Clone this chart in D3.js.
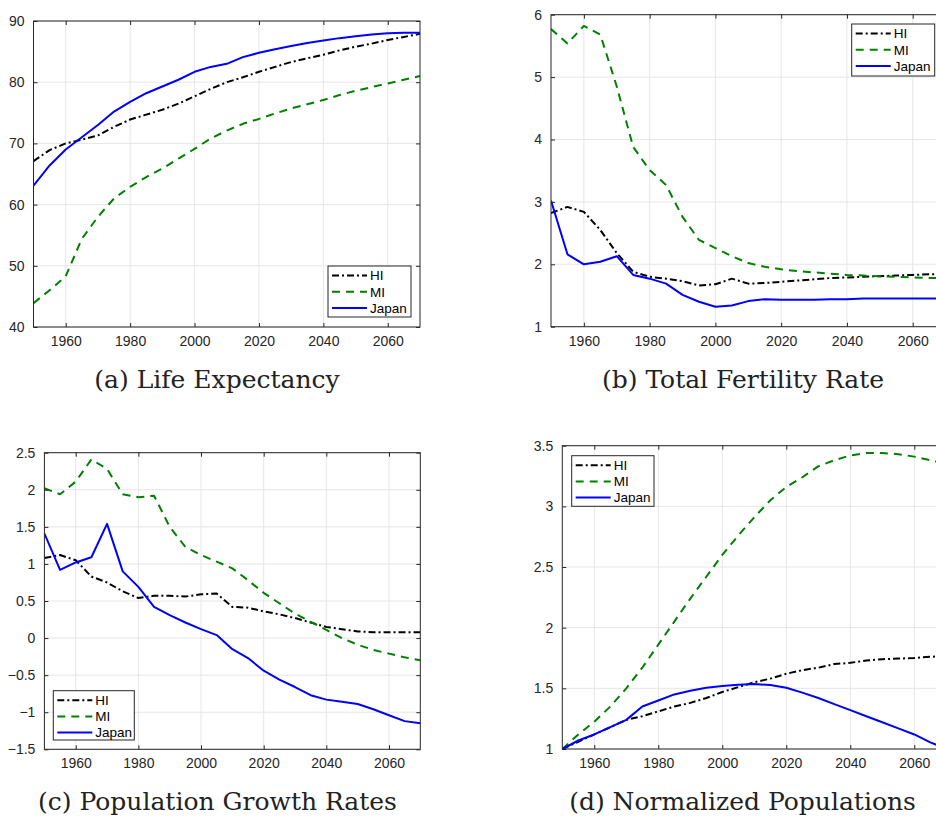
<!DOCTYPE html>
<html>
<head>
<meta charset="utf-8">
<script src="https://cdn.jsdelivr.net/npm/d3@7"></script>
<style>
  html, body { margin: 0; padding: 0; background: #fff; }
  svg { display: block; }
</style>
</head>
<body>
<svg id="chart" width="936" height="816"></svg>
<script>
// ---------- DATA ----------
const years = [1950,1955,1960,1965,1970,1975,1980,1985,1990,1995,2000,2005,2010,2015,2020,2025,2030,2035,2040,2045,2050,2055,2060,2065,2070];
const seriesNames = ["HI", "MI", "Japan"];
const xTicks = [1960, 1980, 2000, 2020, 2040, 2060];

// (a) Life Expectancy
const lifeHI    = [67.1,68.9,70.0,70.6,71.3,72.7,73.9,74.7,75.5,76.5,77.7,78.9,80.0,80.8,81.7,82.5,83.3,83.9,84.5,85.2,85.8,86.3,86.9,87.4,87.9];
const lifeMI    = [43.9,46.0,48.3,54.4,58.0,61.0,62.9,64.5,65.9,67.5,69.1,70.8,72.1,73.2,74.0,74.9,75.7,76.4,77.1,77.9,78.6,79.2,79.8,80.4,81.0];
const lifeJapan = [63.1,66.4,69.0,71.0,73.0,75.2,76.8,78.2,79.3,80.4,81.7,82.5,83.0,84.1,84.8,85.4,85.9,86.4,86.8,87.2,87.5,87.8,88.0,88.1,88.1];
const lifeTicks = [40, 50, 60, 70, 80, 90];

// (b) Total Fertility Rate
const tfrHI    = [2.82,2.92,2.84,2.55,2.18,1.88,1.80,1.77,1.73,1.66,1.68,1.77,1.69,1.70,1.72,1.74,1.76,1.78,1.79,1.80,1.81,1.82,1.83,1.84,1.84];
const tfrMI    = [5.77,5.54,5.82,5.68,4.85,3.88,3.51,3.27,2.76,2.39,2.26,2.13,2.02,1.96,1.92,1.89,1.87,1.85,1.83,1.82,1.81,1.80,1.79,1.78,1.78];
const tfrJapan = [3.02,2.16,2.00,2.04,2.13,1.83,1.77,1.69,1.51,1.40,1.32,1.34,1.41,1.44,1.43,1.43,1.43,1.44,1.44,1.45,1.45,1.45,1.45,1.45,1.45];
const tfrTicks = [1, 2, 3, 4, 5, 6];

// (c) Population Growth Rates
const growthHI    = [1.08,1.12,1.05,0.83,0.75,0.63,0.54,0.57,0.57,0.56,0.59,0.60,0.42,0.41,0.36,0.32,0.27,0.21,0.15,0.12,0.09,0.08,0.08,0.08,0.08];
const growthMI    = [2.02,1.94,2.11,2.41,2.28,1.94,1.90,1.92,1.50,1.23,1.12,1.03,0.94,0.78,0.61,0.47,0.33,0.22,0.11,0.00,-0.09,-0.16,-0.21,-0.26,-0.30];
const growthJapan = [1.41,0.92,1.02,1.09,1.54,0.90,0.69,0.42,0.31,0.21,0.12,0.04,-0.15,-0.27,-0.44,-0.56,-0.66,-0.77,-0.83,-0.86,-0.89,-0.96,-1.04,-1.12,-1.15];
const growthTicks = [-1.5, -1, -0.5, 0, 0.5, 1, 1.5, 2, 2.5];

// (d) Normalized Populations
const popHI    = [1.00,1.06,1.12,1.18,1.24,1.27,1.31,1.35,1.38,1.42,1.47,1.51,1.55,1.58,1.62,1.65,1.67,1.70,1.71,1.73,1.74,1.745,1.75,1.76,1.765];
const popMI    = [1.00,1.12,1.225,1.35,1.50,1.67,1.86,2.05,2.24,2.42,2.60,2.76,2.91,3.05,3.16,3.24,3.33,3.38,3.42,3.44,3.44,3.43,3.41,3.38,3.35];
const popJapan = [1.00,1.07,1.12,1.18,1.24,1.35,1.40,1.45,1.48,1.505,1.52,1.53,1.535,1.527,1.505,1.465,1.42,1.37,1.32,1.27,1.22,1.17,1.12,1.055,1.00];
const popTicks = [1, 1.5, 2, 2.5, 3, 3.5];

const titles = ["(a) Life Expectancy", "(b) Total Fertility Rate", "(c) Population Growth Rates", "(d) Normalized Populations"];

// ---------- STYLE / LAYOUT ----------
const styles = {
  HI:    { color: "#000000", dash: "7,3,2,3" },
  MI:    { color: "#008000", dash: "8,6" },
  Japan: { color: "#0000ff", dash: null }
};
const axisColor = "#262626";
const gridColor = "#e6e6e6";
const tickFont = "'Liberation Sans', Arial, sans-serif";

const panels = [
  { id: "a", box: {l: 33.5, r: 420, t: 21, b: 327}, ydom: [40, 90], yticks: lifeTicks,
    data: [lifeHI, lifeMI, lifeJapan], legend: {x: 328, y: 266, w: 83, h: 51},
    title: titles[0], tx: 217, ty: 388 },
  { id: "b", box: {l: 551, r: 945.6, t: 14.7, b: 326.7}, ydom: [1, 6], yticks: tfrTicks,
    data: [tfrHI, tfrMI, tfrJapan], legend: {x: 851.7, y: 24, w: 83, h: 52},
    title: titles[1], tx: 743, ty: 388 },
  { id: "c", box: {l: 44.4, r: 420.3, t: 452.7, b: 749.3}, ydom: [-1.5, 2.5], yticks: growthTicks,
    data: [growthHI, growthMI, growthJapan], legend: {x: 53.3, y: 690.7, w: 81, h: 49.3},
    title: titles[2], tx: 217.5, ty: 810 },
  { id: "d", box: {l: 562.3, r: 946.3, t: 445.7, b: 749}, ydom: [1, 3.5], yticks: popTicks,
    data: [popHI, popMI, popJapan], legend: {x: 571.7, y: 455.7, w: 82.3, h: 50.6},
    title: titles[3], tx: 742.5, ty: 810 }
];

const svg = d3.select("#chart");
const fmt = v => String(v).replace("-", "\u2212");

panels.forEach(p => {
  const B = p.box;
  const x = d3.scaleLinear().domain([1950, 2070]).range([B.l, B.r]);
  const y = d3.scaleLinear().domain(p.ydom).range([B.b, B.t]);
  const g = svg.append("g");

  g.append("rect").attr("x", B.l).attr("y", B.t).attr("width", B.r - B.l).attr("height", B.b - B.t).attr("fill", "#fff");

  // grid
  g.append("g").selectAll("line").data(xTicks).join("line")
    .attr("x1", d => x(d)).attr("x2", d => x(d)).attr("y1", B.t).attr("y2", B.b)
    .attr("stroke", gridColor).attr("stroke-width", 1);
  g.append("g").selectAll("line").data(p.yticks).join("line")
    .attr("x1", B.l).attr("x2", B.r).attr("y1", d => y(d)).attr("y2", d => y(d))
    .attr("stroke", gridColor).attr("stroke-width", 1);

  const clipId = "clip-" + p.id;
  svg.append("defs").append("clipPath").attr("id", clipId)
    .append("rect").attr("x", B.l).attr("y", B.t - 1).attr("width", B.r - B.l).attr("height", B.b - B.t + 2);

  // lines
  const line = d3.line().x((d, i) => x(years[i])).y(d => y(d));
  const lg = g.append("g").attr("clip-path", `url(#${clipId})`);
  p.data.forEach((vals, k) => {
    const s = styles[seriesNames[k]];
    lg.append("path").datum(vals).attr("d", line)
      .attr("fill", "none").attr("stroke", s.color).attr("stroke-width", 2)
      .attr("stroke-dasharray", s.dash).attr("stroke-linejoin", "round");
  });

  // axes (MATLAB style, ticks inward on all sides)
  const xb = d3.axisBottom(x).tickValues(xTicks).tickSizeInner(-4).tickSizeOuter(0).tickPadding(9).tickFormat(d3.format("d"));
  const xt = d3.axisTop(x).tickValues(xTicks).tickSizeInner(-4).tickSizeOuter(0).tickFormat("");
  const yl = d3.axisLeft(y).tickValues(p.yticks).tickSizeInner(-4).tickSizeOuter(0).tickPadding(9).tickFormat(fmt);
  const yr = d3.axisRight(y).tickValues(p.yticks).tickSizeInner(-4).tickSizeOuter(0).tickFormat("");
  const axes = [
    g.append("g").attr("transform", `translate(0,${B.b})`).call(xb),
    g.append("g").attr("transform", `translate(0,${B.t})`).call(xt),
    g.append("g").attr("transform", `translate(${B.l},0)`).call(yl),
    g.append("g").attr("transform", `translate(${B.r},0)`).call(yr)
  ];
  axes.forEach(a => {
    a.select(".domain").remove();
    a.selectAll("line").attr("stroke", axisColor);
    a.selectAll("text").attr("fill", axisColor).style("font-family", tickFont).style("font-size", "14px");
  });
  g.append("rect").attr("x", B.l).attr("y", B.t).attr("width", B.r - B.l).attr("height", B.b - B.t)
    .attr("fill", "none").attr("stroke", axisColor).attr("stroke-width", 1);

  // legend
  const L = p.legend;
  const leg = g.append("g");
  leg.append("rect").attr("x", L.x).attr("y", L.y).attr("width", L.w).attr("height", L.h)
    .attr("fill", "#fff").attr("stroke", axisColor).attr("stroke-width", 1);
  seriesNames.forEach((name, k) => {
    const cy = L.y + 9.5 + k * 16.2;
    const s = styles[name];
    leg.append("line").attr("x1", L.x + 4).attr("x2", L.x + 39).attr("y1", cy).attr("y2", cy)
      .attr("stroke", s.color).attr("stroke-width", 2).attr("stroke-dasharray", s.dash);
    leg.append("text").attr("x", L.x + 42).attr("y", cy).attr("dy", "0.36em")
      .attr("fill", "#000").style("font-family", tickFont).style("font-size", "13.5px").text(name);
  });

  // caption
  svg.append("text").attr("x", p.tx).attr("y", p.ty).attr("text-anchor", "middle")
    .attr("fill", "#222").style("font-family", "'DejaVu Serif', 'Liberation Serif', serif")
    .style("font-size", "25px").text(p.title);
});
</script>
</body>
</html>
